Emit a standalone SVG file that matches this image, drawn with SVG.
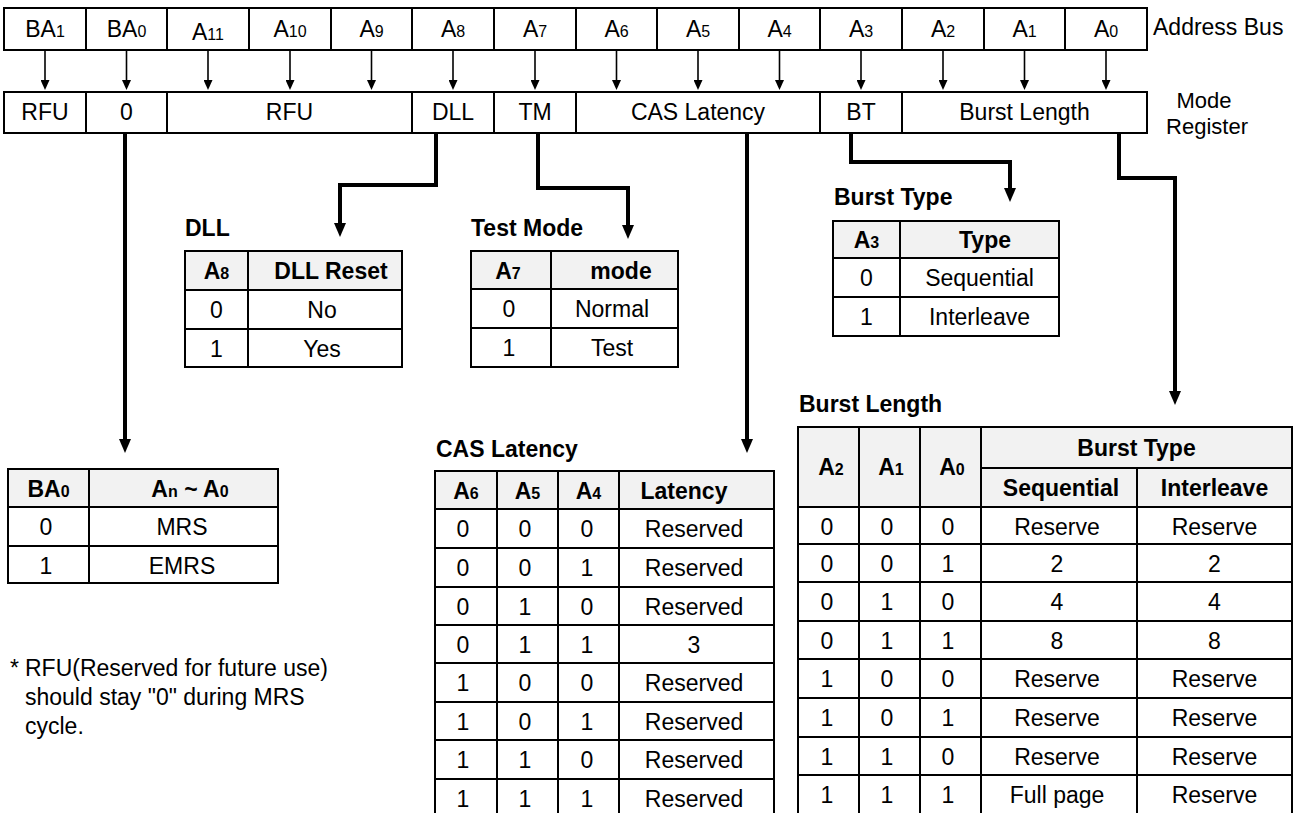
<svg xmlns="http://www.w3.org/2000/svg" width="1302" height="813" viewBox="0 0 1302 813">
<defs>
<style>
text{font-family:"Liberation Sans",Arial,sans-serif;font-size:23px;fill:#000;text-anchor:middle}
.b{font-weight:bold}
.s{font-size:16px}
.l{text-anchor:start}
.m{font-size:22px}
.cell{fill:none;stroke:#000;stroke-width:2}
.grid{fill:none;stroke:#000;stroke-width:2}
.hdr{fill:#f2f2f2;stroke:none}
.conn{fill:none;stroke:#000;stroke-width:4;stroke-linejoin:miter}
.thin{fill:none;stroke:#000;stroke-width:1.6}
</style>
<marker id="big" markerUnits="userSpaceOnUse" markerWidth="14" markerHeight="12" viewBox="0 0 14 12" refX="3" refY="6" orient="auto"><path d="M0,0 L14,6 L0,12 z" fill="#000"/></marker>
<marker id="sm" markerUnits="userSpaceOnUse" markerWidth="10" markerHeight="9" viewBox="0 0 10 9" refX="2" refY="4.5" orient="auto"><path d="M0,0 L10,4.5 L0,9 z" fill="#000"/></marker>
</defs>
<rect width="1302" height="813" fill="#fff"/>

<g id="address-bus">
<rect class="cell" x="4" y="8" width="1143" height="42"/>
<path class="grid" d="M86,8V50M167,8V50M249,8V50M331,8V50M412,8V50M494,8V50M576,8V50M657,8V50M739,8V50M820,8V50M902,8V50M984,8V50M1065,8V50"/>
<text x="45" y="37">BA<tspan class="s">1</tspan></text>
<text x="126.5" y="37">BA<tspan class="s">0</tspan></text>
<text x="208" y="40">A<tspan class="s">11</tspan></text>
<text x="290" y="37">A<tspan class="s">10</tspan></text>
<text x="371.5" y="37">A<tspan class="s">9</tspan></text>
<text x="453" y="37">A<tspan class="s">8</tspan></text>
<text x="535" y="37">A<tspan class="s">7</tspan></text>
<text x="616.5" y="37">A<tspan class="s">6</tspan></text>
<text x="698" y="37">A<tspan class="s">5</tspan></text>
<text x="779.5" y="37">A<tspan class="s">4</tspan></text>
<text x="861" y="37">A<tspan class="s">3</tspan></text>
<text x="943" y="37">A<tspan class="s">2</tspan></text>
<text x="1024.5" y="37">A<tspan class="s">1</tspan></text>
<text x="1106" y="37">A<tspan class="s">0</tspan></text>
<text class="l" x="1153" y="35">Address Bus</text>
</g>

<g id="mode-register">
<rect class="cell" x="4" y="92" width="1143" height="41"/>
<path class="grid" d="M86,92V133M167,92V133M412,92V133M494,92V133M576,92V133M820,92V133M902,92V133"/>
<text x="45" y="120">RFU</text>
<text x="126.5" y="120">0</text>
<text x="289.5" y="120">RFU</text>
<text x="453" y="120">DLL</text>
<text x="535" y="120">TM</text>
<text x="698" y="120">CAS Latency</text>
<text x="861" y="120">BT</text>
<text x="1024.5" y="120">Burst Length</text>
<text class="m" x="1204" y="108">Mode</text>
<text class="m" x="1207" y="134">Register</text>
</g>

<g id="connectors">
<g class="thin" marker-end="url(#sm)">
<path d="M45,50V82"/><path d="M126.5,50V82"/><path d="M208,50V82"/><path d="M290,50V82"/><path d="M371.5,50V82"/><path d="M453,50V82"/><path d="M535,50V82"/><path d="M616.5,50V82"/><path d="M698,50V82"/><path d="M779.5,50V82"/><path d="M861,50V82"/><path d="M943,50V82"/><path d="M1024.5,50V82"/><path d="M1106,50V82"/>
</g>
<g class="conn" marker-end="url(#big)">
<path d="M125,133V442"/>
<path d="M436,133V185H340V226"/>
<path d="M538,133V188H628V228"/>
<path d="M747,133V442"/>
<path d="M851,133V162H1010V191"/>
<path d="M1119,133V178H1175V394"/>
</g>
</g>

<g id="dll-table">
<text class="b l" x="185" y="236">DLL</text>
<rect class="hdr" x="185" y="251" width="217" height="39"/>
<rect class="cell" x="185" y="251" width="217" height="116"/>
<path class="grid" d="M248,251V367M185,290H402M185,329H402"/>
<text class="b" x="216.5" y="279">A<tspan class="s">8</tspan></text>
<text class="b" x="331" y="279">DLL Reset</text>
<text x="216.5" y="318">0</text><text x="322" y="318">No</text>
<text x="216.5" y="357">1</text><text x="322" y="357">Yes</text>
</g>

<g id="test-mode-table">
<text class="b l" x="471" y="236">Test Mode</text>
<rect class="hdr" x="471" y="251" width="207" height="38"/>
<rect class="cell" x="471" y="251" width="207" height="116"/>
<path class="grid" d="M551,251V367M471,289H678M471,328H678"/>
<text class="b" x="508" y="279">A<tspan class="s">7</tspan></text>
<text class="b" x="621" y="279">mode</text>
<text x="509" y="317">0</text><text x="612" y="317">Normal</text>
<text x="509" y="356">1</text><text x="612" y="356">Test</text>
</g>

<g id="burst-type-table">
<text class="b l" x="834" y="205">Burst Type</text>
<rect class="hdr" x="833" y="221" width="226" height="37"/>
<rect class="cell" x="833" y="221" width="226" height="115"/>
<path class="grid" d="M900,221V336M833,258H1059M833,297H1059"/>
<text class="b" x="866.5" y="248">A<tspan class="s">3</tspan></text>
<text class="b" x="985" y="248">Type</text>
<text x="866.5" y="286">0</text><text x="979.5" y="286">Sequential</text>
<text x="866.5" y="325">1</text><text x="979.5" y="325">Interleave</text>
</g>

<g id="ba0-table">
<rect class="hdr" x="8" y="469" width="270" height="38"/>
<rect class="cell" x="8" y="469" width="270" height="114"/>
<path class="grid" d="M89,469V583M8,507H278M8,546H278"/>
<text class="b" x="48.5" y="497">BA<tspan class="s">0</tspan></text>
<text class="b" x="190" y="497">A<tspan class="s">n</tspan> ~ A<tspan class="s">0</tspan></text>
<text x="46" y="535">0</text><text x="182" y="535">MRS</text>
<text x="46" y="574">1</text><text x="182" y="574">EMRS</text>
</g>

<g id="cas-latency-table">
<text class="b l" x="436" y="457">CAS Latency</text>
<rect class="hdr" x="435" y="471" width="339" height="38"/>
<rect class="cell" x="435" y="471" width="339" height="346"/>
<path class="grid" d="M497,471V817M558,471V817M619,471V817M435,509H774M435,548H774M435,587H774M435,625H774M435,663H774M435,702H774M435,740H774M435,779H774"/>
<text class="b" x="466" y="499">A<tspan class="s">6</tspan></text>
<text class="b" x="527.5" y="499">A<tspan class="s">5</tspan></text>
<text class="b" x="588.5" y="499">A<tspan class="s">4</tspan></text>
<text class="b" x="684" y="499">Latency</text>
<text x="463" y="537">0</text><text x="525" y="537">0</text><text x="587" y="537">0</text><text x="694" y="537">Reserved</text>
<text x="463" y="576">0</text><text x="525" y="576">0</text><text x="587" y="576">1</text><text x="694" y="576">Reserved</text>
<text x="463" y="615">0</text><text x="525" y="615">1</text><text x="587" y="615">0</text><text x="694" y="615">Reserved</text>
<text x="463" y="653">0</text><text x="525" y="653">1</text><text x="587" y="653">1</text><text x="694" y="653">3</text>
<text x="463" y="691">1</text><text x="525" y="691">0</text><text x="587" y="691">0</text><text x="694" y="691">Reserved</text>
<text x="463" y="730">1</text><text x="525" y="730">0</text><text x="587" y="730">1</text><text x="694" y="730">Reserved</text>
<text x="463" y="768">1</text><text x="525" y="768">1</text><text x="587" y="768">0</text><text x="694" y="768">Reserved</text>
<text x="463" y="807">1</text><text x="525" y="807">1</text><text x="587" y="807">1</text><text x="694" y="807">Reserved</text>
</g>

<g id="burst-length-table">
<text class="b l" x="799" y="412">Burst Length</text>
<rect class="hdr" x="798" y="427" width="494" height="80"/>
<rect class="cell" x="798" y="427" width="494" height="390"/>
<path class="grid" d="M859,427V817M920,427V817M981,427V817M1137,468V817M981,468H1292M798,507H1292M798,544H1292M798,582H1292M798,621H1292M798,659H1292M798,698H1292M798,737H1292M798,775H1292"/>
<text class="b" x="831" y="475">A<tspan class="s">2</tspan></text>
<text class="b" x="891" y="475">A<tspan class="s">1</tspan></text>
<text class="b" x="952" y="475">A<tspan class="s">0</tspan></text>
<text class="b" x="1136.5" y="456">Burst Type</text>
<text class="b" x="1061" y="496">Sequential</text>
<text class="b" x="1214.5" y="496">Interleave</text>
<text x="827" y="535">0</text><text x="887" y="535">0</text><text x="948" y="535">0</text><text x="1057" y="535">Reserve</text><text x="1214.5" y="535">Reserve</text>
<text x="827" y="572">0</text><text x="887" y="572">0</text><text x="948" y="572">1</text><text x="1057" y="572">2</text><text x="1214.5" y="572">2</text>
<text x="827" y="610">0</text><text x="887" y="610">1</text><text x="948" y="610">0</text><text x="1057" y="610">4</text><text x="1214.5" y="610">4</text>
<text x="827" y="649">0</text><text x="887" y="649">1</text><text x="948" y="649">1</text><text x="1057" y="649">8</text><text x="1214.5" y="649">8</text>
<text x="827" y="687">1</text><text x="887" y="687">0</text><text x="948" y="687">0</text><text x="1057" y="687">Reserve</text><text x="1214.5" y="687">Reserve</text>
<text x="827" y="726">1</text><text x="887" y="726">0</text><text x="948" y="726">1</text><text x="1057" y="726">Reserve</text><text x="1214.5" y="726">Reserve</text>
<text x="827" y="765">1</text><text x="887" y="765">1</text><text x="948" y="765">0</text><text x="1057" y="765">Reserve</text><text x="1214.5" y="765">Reserve</text>
<text x="827" y="803">1</text><text x="887" y="803">1</text><text x="948" y="803">1</text><text x="1057" y="803">Full page</text><text x="1214.5" y="803">Reserve</text>
</g>

<g id="footnote">
<text class="l" x="10" y="676">*</text>
<text class="l" x="25" y="676">RFU(Reserved for future use)</text>
<text class="l" x="25" y="705">should stay "0" during MRS</text>
<text class="l" x="25" y="734">cycle.</text>
</g>
</svg>
